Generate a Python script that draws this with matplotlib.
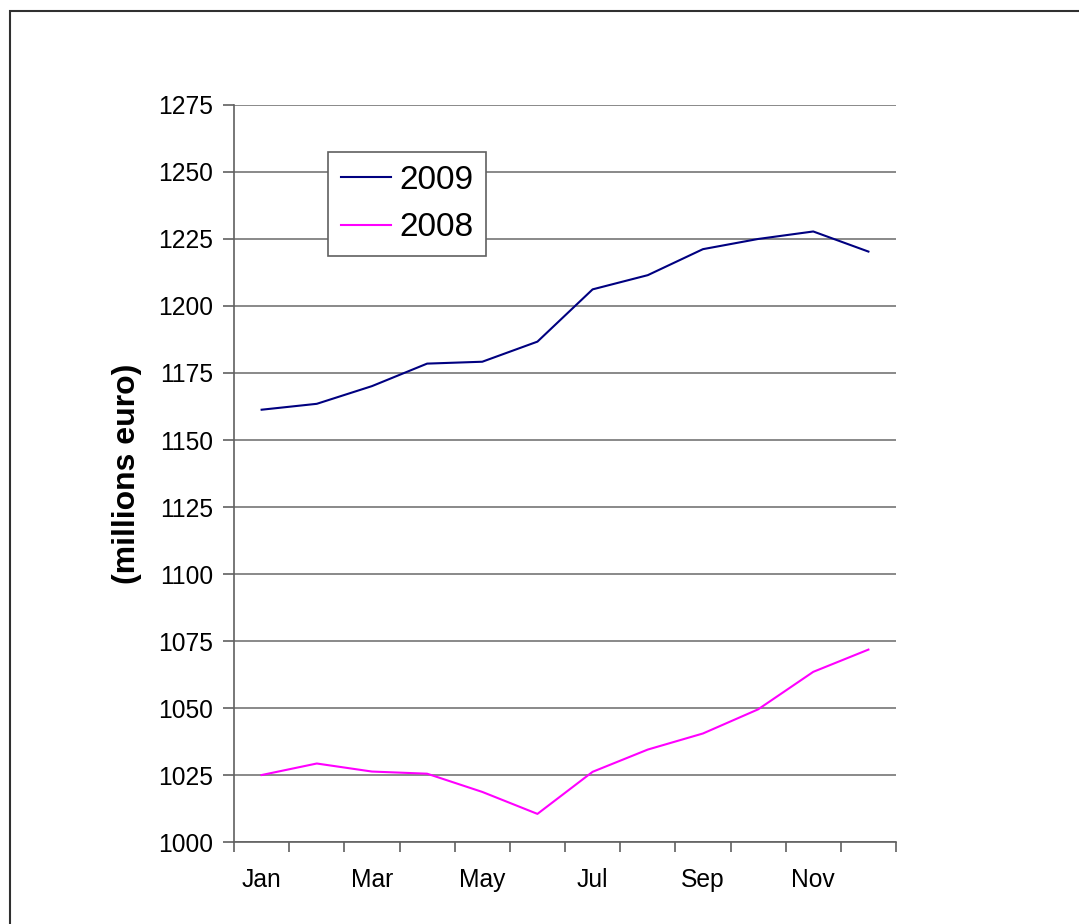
import matplotlib
matplotlib.use('Agg')
import matplotlib.pyplot as plt
from matplotlib.patches import Rectangle

plt.rcParams['font.family'] = ['Liberation Sans', 'DejaVu Sans']

months = ['Jan', 'Feb', 'Mar', 'Apr', 'May', 'Jun',
          'Jul', 'Aug', 'Sep', 'Oct', 'Nov', 'Dec']
values_2009 = [1161.3, 1163.5, 1170.1, 1178.5, 1179.2, 1186.7,
               1206.2, 1211.5, 1221.2, 1225.0, 1227.8, 1220.3]
values_2008 = [1025.0, 1029.3, 1026.3, 1025.5, 1018.7, 1010.5,
               1026.2, 1034.5, 1040.5, 1049.5, 1063.5, 1071.8]
y_ticks = [1000, 1025, 1050, 1075, 1100, 1125, 1150, 1175, 1200, 1225, 1250, 1275]

fig = plt.figure(figsize=(10.79, 9.24), dpi=100)
ax = fig.add_axes([0.2169, 0.0887, 0.6135, 0.7977])

x = list(range(len(months)))
ax.plot(x, values_2009, color='#000080', linewidth=1.5, label='2009')
ax.plot(x, values_2008, color='#FF00FF', linewidth=1.5, label='2008')

ax.set_xlim(-0.5, len(months) - 0.5)
ax.set_ylim(1000, 1275)
ax.set_yticks(y_ticks)
ax.yaxis.grid(True, color='#808080', linewidth=1.3)
ax.set_axisbelow(True)

# ticks between categories, labels on every other month
ax.set_xticks([i - 0.5 for i in range(len(months) + 1)])
ax.set_xticklabels([])
ax.set_xticks(x[::2], minor=True)
ax.set_xticklabels(months[::2], minor=True)
ax.tick_params(axis='x', which='major', direction='out', length=7, width=1.2, color='#606060')
ax.tick_params(axis='x', which='minor', length=0, pad=19, labelsize=17.7)
ax.tick_params(axis='y', direction='out', length=8, width=1.2, color='#606060', pad=7, labelsize=17.7)

for side in ['top', 'right']:
    ax.spines[side].set_visible(False)
for side in ['left', 'bottom']:
    ax.spines[side].set_color('#606060')
    ax.spines[side].set_linewidth(1.2)

ax.set_ylabel('(millions euro)', fontsize=23, fontweight='bold', labelpad=12)

leg = ax.legend(loc='upper left', bbox_to_anchor=(328 / 1079, 1 - 152 / 924),
                bbox_transform=fig.transFigure, fontsize=24, frameon=True,
                fancybox=False, edgecolor='#606060', framealpha=1,
                handlelength=1.5, handletextpad=0.25, borderpad=0.38,
                labelspacing=0.5, borderaxespad=0)
leg.get_frame().set_linewidth(1.2)

# outer chart border (runs off the right and bottom of the image)
fig.patches.append(Rectangle((10 / 1079, -0.1), 1.2, 1.1 - 11 / 924,
                             transform=fig.transFigure, fill=False,
                             edgecolor='#303030', linewidth=1.5))

fig.savefig('out.png', dpi=100)
